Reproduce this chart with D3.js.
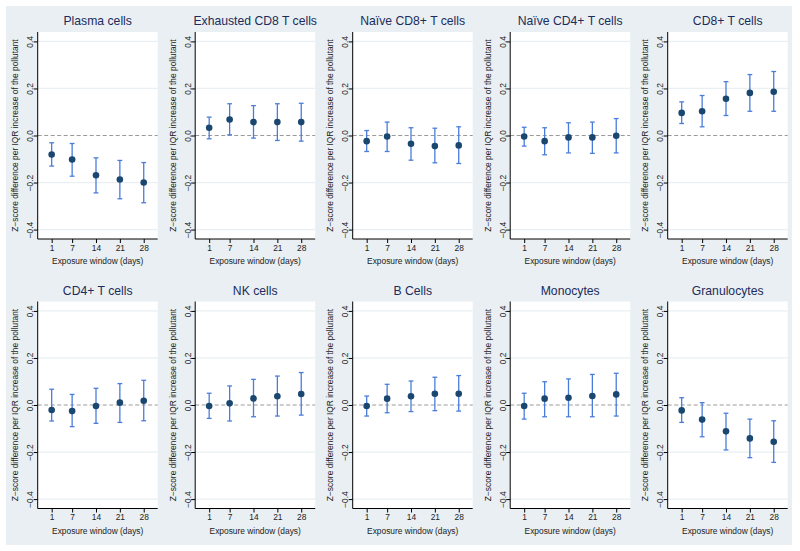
<!DOCTYPE html>
<html>
<head>
<meta charset="utf-8">
<script src="https://cdn.jsdelivr.net/npm/d3@7"></script>
<style>
  html, body { margin: 0; padding: 0; background: #ffffff; }
  svg { display: block; font-family: "Liberation Sans", Arial, sans-serif; }
</style>
</head>
<body>
<svg id="chart" width="800" height="551"></svg>
<script>
// ---- data ----
const panelTitles = ["Plasma cells", "Exhausted CD8 T cells", "Naïve CD8+ T cells", "Naïve CD4+ T cells", "CD8+ T cells",
                     "CD4+ T cells", "NK cells", "B Cells", "Monocytes", "Granulocytes"];
const exposureWindows = [1, 7, 14, 21, 28];
const estimates = [
  [-0.081, -0.102, -0.169, -0.187, -0.200],
  [0.033, 0.068, 0.057, 0.057, 0.057],
  [-0.024, -0.004, -0.035, -0.045, -0.042],
  [-0.004, -0.024, -0.008, -0.008, -0.001],
  [0.096, 0.103, 0.156, 0.181, 0.186],
  [-0.021, -0.026, -0.004, 0.010, 0.018],
  [-0.004, 0.007, 0.028, 0.037, 0.047],
  [-0.004, 0.027, 0.037, 0.048, 0.048],
  [-0.004, 0.027, 0.031, 0.038, 0.045],
  [-0.023, -0.062, -0.112, -0.142, -0.156]
];
const lowerCI = [
  [-0.130, -0.173, -0.244, -0.269, -0.286],
  [-0.014, 0.003, -0.011, -0.021, -0.024],
  [-0.068, -0.068, -0.105, -0.116, -0.119],
  [-0.045, -0.082, -0.074, -0.076, -0.074],
  [0.051, 0.037, 0.085, 0.103, 0.103],
  [-0.068, -0.092, -0.078, -0.074, -0.067],
  [-0.057, -0.068, -0.050, -0.047, -0.043],
  [-0.047, -0.033, -0.028, -0.024, -0.026],
  [-0.060, -0.050, -0.050, -0.050, -0.047],
  [-0.074, -0.135, -0.191, -0.224, -0.244]
];
const upperCI = [
  [-0.031, -0.034, -0.095, -0.106, -0.115],
  [0.078, 0.135, 0.127, 0.135, 0.137],
  [0.021, 0.057, 0.033, 0.031, 0.037],
  [0.035, 0.033, 0.054, 0.057, 0.072],
  [0.143, 0.170, 0.229, 0.259, 0.272],
  [0.067, 0.045, 0.071, 0.091, 0.105],
  [0.050, 0.081, 0.109, 0.123, 0.138],
  [0.038, 0.088, 0.102, 0.118, 0.125],
  [0.050, 0.099, 0.111, 0.130, 0.135],
  [0.031, 0.010, -0.035, -0.060, -0.067]
];
const yTicks = [-0.4, -0.2, 0.0, 0.2, 0.4];
const gridValues = [-0.4, -0.2, 0.2, 0.4];
const xAxisTitle = "Exposure window (days)";
const yAxisTitle = "Z\u2212score difference per IQR increase of the pollutant";

// ---- layout ----
const svg = d3.select("#chart");
const bg = "#e9eff2";
svg.append("rect").attr("x", 6).attr("y", 6).attr("width", 786).attr("height", 539).attr("fill", bg);

const colStep = 157.5, rowStep = 269.5;
const plotW = 120, plotH = 207;
const markerColor = "#1a476f", spikeColor = "#4a7ddb", titleColor = "#1c2c5c";

panelTitles.forEach((title, i) => {
  const col = i % 5, row = Math.floor(i / 5);
  const ax = 5 + col * colStep + 32.7;
  const top = 32 + row * rowStep;
  const bottom = top + plotH;

  const x = d3.scaleLinear().domain([-3.1, 32.1]).range([ax, ax + plotW]);
  const y = d3.scaleLinear().domain([-0.44, 0.44]).range([bottom, top]);

  const g = svg.append("g");
  g.append("rect").attr("x", ax).attr("y", top).attr("width", plotW).attr("height", plotH).attr("fill", "#ffffff");

  // gridlines
  g.selectAll(".grid").data(gridValues).enter().append("line")
    .attr("x1", ax).attr("x2", ax + plotW)
    .attr("y1", d => y(d)).attr("y2", d => y(d))
    .attr("stroke", bg).attr("stroke-width", 1.2);

  // zero reference
  g.append("line")
    .attr("x1", ax).attr("x2", ax + plotW)
    .attr("y1", y(0)).attr("y2", y(0))
    .attr("stroke", "#9a9a9a").attr("stroke-width", 1).attr("stroke-dasharray", "4,2.5");

  // y axis
  const yAxis = d3.axisLeft(y).tickValues(yTicks).tickSize(4).tickFormat(d3.format(".1f"));
  const ya = g.append("g").attr("transform", `translate(${ax},0)`).call(yAxis);
  ya.select(".domain").attr("stroke", "#000").attr("d", `M0,${top}V${bottom}`);
  ya.selectAll(".tick line").attr("stroke", "#000");
  ya.selectAll(".tick text")
    .attr("x", null).attr("dy", null)
    .attr("transform", "translate(-4.5,0) rotate(-90)")
    .attr("text-anchor", "middle")
    .attr("font-size", 8.4).attr("fill", "#222")
    .text(d => d3.format(".1f")(d).replace("-", "\u2212"));

  // x axis
  const xAxis = d3.axisBottom(x).tickValues(exposureWindows).tickSize(4);
  const xa = g.append("g").attr("transform", `translate(0,${bottom})`).call(xAxis);
  xa.select(".domain").attr("stroke", "#000").attr("d", `M${ax},0H${ax + plotW}`);
  xa.selectAll(".tick line").attr("stroke", "#000");
  xa.selectAll(".tick text").attr("y", 6).attr("dy", "0.71em").attr("font-size", 8.4).attr("fill", "#222");

  // axis titles
  g.append("text").attr("x", ax + plotW / 2).attr("y", bottom + 25)
    .attr("text-anchor", "middle").attr("font-size", 8.4).attr("fill", "#222").text(xAxisTitle);
  g.append("text")
    .attr("transform", `translate(${ax - 19.5},${(top + bottom) / 2}) rotate(-90)`)
    .attr("text-anchor", "middle").attr("font-size", 8.4).attr("fill", "#222").text(yAxisTitle);

  // panel title
  g.append("text").attr("x", ax + plotW / 2).attr("y", top - 6.7)
    .attr("text-anchor", "middle").attr("font-size", 12.2).attr("fill", titleColor).text(title);

  // error bars
  const pts = exposureWindows.map((w, j) => ({ w, est: estimates[i][j], lo: lowerCI[i][j], hi: upperCI[i][j] }));
  const eb = g.append("g").attr("stroke", spikeColor).attr("stroke-width", 1.3);
  eb.selectAll(".v").data(pts).enter().append("line")
    .attr("x1", d => x(d.w)).attr("x2", d => x(d.w))
    .attr("y1", d => y(d.lo)).attr("y2", d => y(d.hi));
  eb.selectAll(".cl").data(pts).enter().append("line")
    .attr("x1", d => x(d.w) - 2.4).attr("x2", d => x(d.w) + 2.4)
    .attr("y1", d => y(d.lo)).attr("y2", d => y(d.lo));
  eb.selectAll(".ch").data(pts).enter().append("line")
    .attr("x1", d => x(d.w) - 2.4).attr("x2", d => x(d.w) + 2.4)
    .attr("y1", d => y(d.hi)).attr("y2", d => y(d.hi));

  g.selectAll(".pt").data(pts).enter().append("circle")
    .attr("cx", d => x(d.w)).attr("cy", d => y(d.est)).attr("r", 3.3)
    .attr("fill", markerColor);
});
</script>
</body>
</html>
